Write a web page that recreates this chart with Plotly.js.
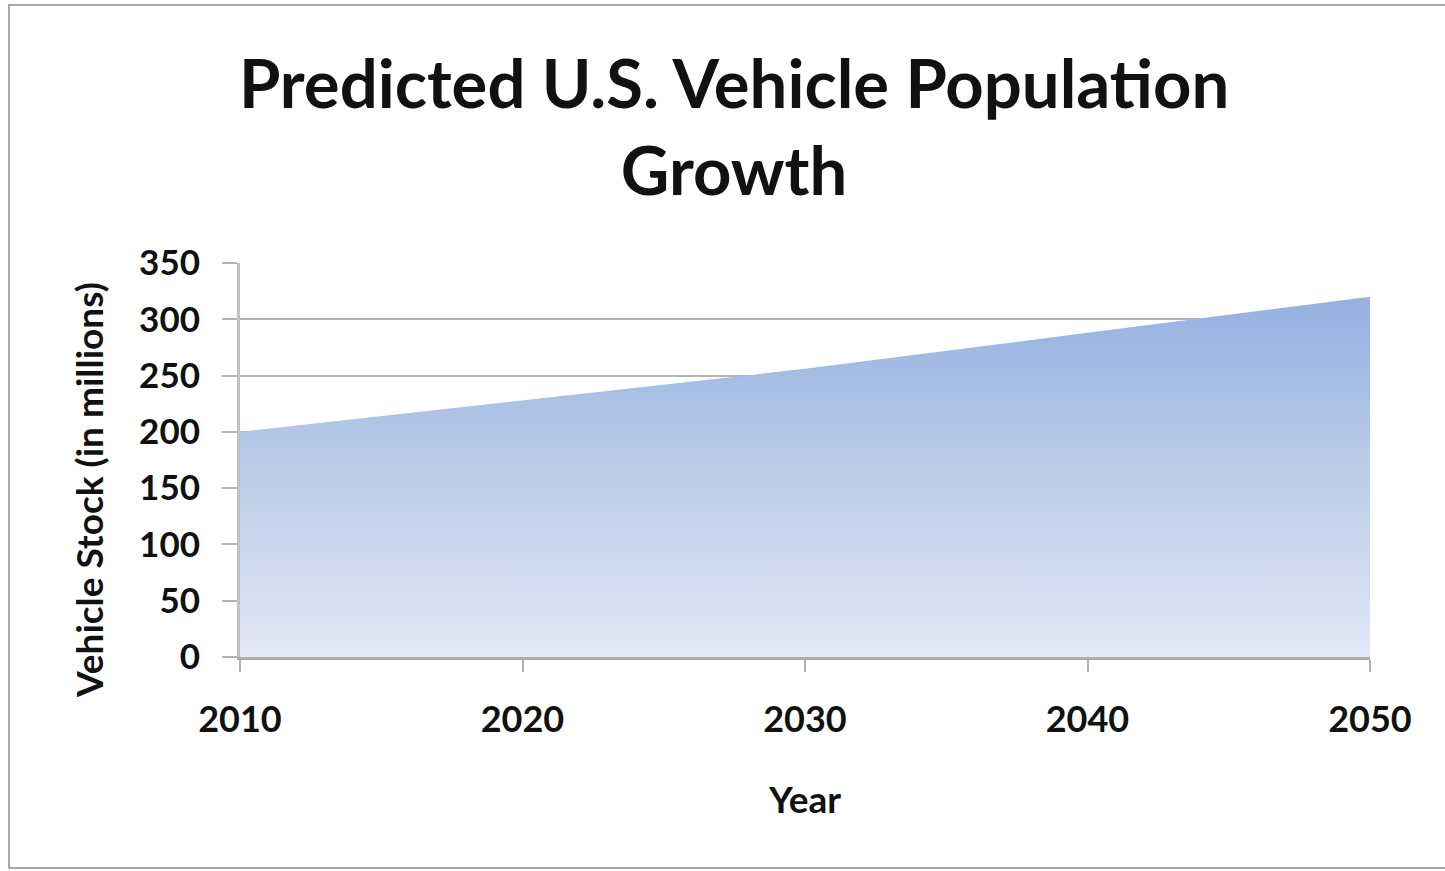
<!DOCTYPE html>
<html>
<head>
<meta charset="utf-8">
<script src="https://cdn.plot.ly/plotly-3.0.1.min.js"></script>
<style>html,body{margin:0;padding:0;background:#fff;}#chart{width:1445px;height:871px;}</style>
</head>
<body>
<div id="chart"></div>
<script>
const years = [2010, 2020, 2030, 2040, 2050];
const vehicleStock = [200, 228, 256, 288, 320];
const yTicks = [0, 50, 100, 150, 200, 250, 300, 350];
const xTicks = [2010, 2020, 2030, 2040, 2050];
const yTitle = 'Vehicle Stock (in millions)';

const FONT = 'Lato, "Open Sans", sans-serif';
const W = 1445, H = 871, L = 240, R = 75, T = 263, B = 214;
const pw = W - L - R, ph = H - T - B;
const px = v => (v - L) / pw;
const py = v => (H - B - v) / ph;

const trace = {
  x: years,
  y: vehicleStock,
  type: 'scatter',
  mode: 'lines',
  fill: 'tozeroy',
  line: {width: 0, color: 'rgba(0,0,0,0)'},
  fillcolor: '#b7c9ea',
  fillgradient: {
    type: 'vertical',
    start: 0,
    stop: 320,
    colorscale: [[0, '#e2e8f6'], [0.5, '#bccde9'], [1, '#94b1e2']]
  },
  hoverinfo: 'x+y'
};

const layout = {
  width: W, height: H,
  margin: {l: L, r: R, t: T, b: B, pad: 0},
  paper_bgcolor: '#ffffff',
  plot_bgcolor: '#ffffff',
  showlegend: false,
  font: {family: FONT, color: '#111'},
  title: {
    text: 'Predicted U.S. Vehicle Population<br>Growth',
    font: {family: FONT, size: 67, weight: 'bold', color: '#111'},
    x: 0.508, xanchor: 'center',
    y: 1 - 108 / H, yanchor: 'middle'
  },
  xaxis: {
    range: [2010, 2050],
    tickvals: xTicks,
    ticktext: xTicks.map(String),
    showgrid: false,
    zeroline: false,
    showline: true, linecolor: '#ababab', linewidth: 3,
    ticks: 'outside', ticklen: 12, tickwidth: 2, tickcolor: '#b0b0b0',
    ticklabelstandoff: 17,
    tickfont: {family: FONT, size: 36, weight: 'bold', color: '#111'},
    title: {text: 'Year', font: {family: FONT, size: 37, weight: 'bold', color: '#111'}, standoff: 48},
    fixedrange: true
  },
  yaxis: {
    range: [0, 350],
    tickvals: yTicks,
    ticktext: yTicks.map(String),
    showgrid: true, gridcolor: '#b3b3b3', gridwidth: 2,
    zeroline: false,
    showline: true, linecolor: '#c2c2c2', linewidth: 3,
    ticks: 'outside', ticklen: 15, tickwidth: 2, tickcolor: '#b3b3b3',
    ticklabelstandoff: 15,
    tickfont: {family: FONT, size: 35, weight: 'bold', color: '#111'},
    fixedrange: true
  },
  annotations: [
    {text: yTitle, xref: 'paper', yref: 'paper', x: px(88), y: py(490),
     xanchor: 'center', yanchor: 'middle', textangle: -90, showarrow: false,
     font: {family: FONT, size: 37, weight: 'bold', color: '#111'}}
  ],
  shapes: [
    {type: 'rect', xref: 'paper', yref: 'paper',
     x0: px(9), x1: px(1460), y0: py(868), y1: py(5),
     line: {color: '#a8a8a8', width: 2}, fillcolor: 'rgba(0,0,0,0)', layer: 'below'}
  ]
};

Plotly.newPlot('chart', [trace], layout, {displayModeBar: false, staticPlot: true});
</script>
</body>
</html>
